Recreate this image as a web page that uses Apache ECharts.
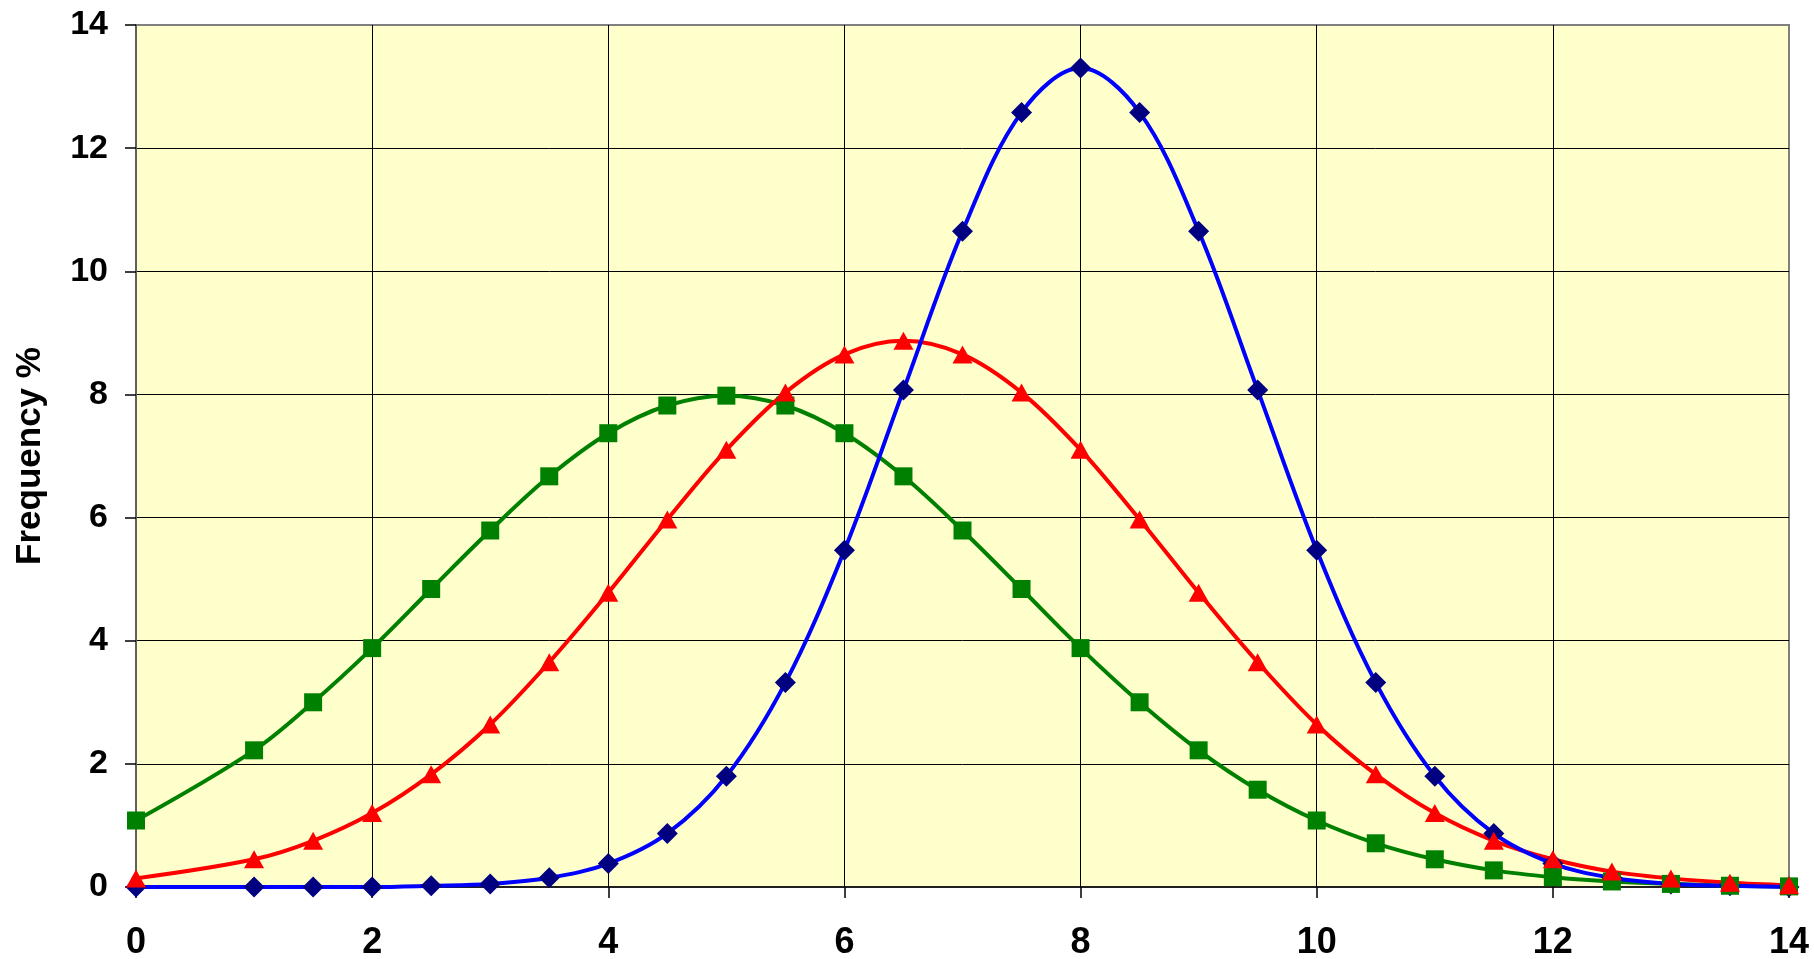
<!DOCTYPE html>
<html>
<head>
<meta charset="utf-8">
<script src="https://cdn.jsdelivr.net/npm/echarts@6/dist/echarts.min.js"></script>
<style>
html,body{margin:0;padding:0;background:#fff;}
#c{width:1814px;height:959px;}
</style>
</head>
<body>
<div id="c"></div>
<script>
const xValues = [0,1,1.5,2,2.5,3,3.5,4,4.5,5,5.5,6,6.5,7,7.5,8,8.5,9,9.5,10,10.5,11,11.5,12,12.5,13,13.5,14];
const blueValues = [0.00,0.00,0.00,0.00,0.02,0.05,0.15,0.38,0.87,1.80,3.32,5.47,8.07,10.65,12.58,13.30,12.58,10.65,8.07,5.47,3.32,1.80,0.87,0.38,0.15,0.05,0.02,0.00];
const redValues = [0.14,0.45,0.75,1.20,1.83,2.64,3.65,4.78,5.97,7.10,8.03,8.65,8.87,8.65,8.03,7.10,5.97,4.78,3.65,2.64,1.83,1.20,0.75,0.45,0.25,0.14,0.07,0.03];
const greenValues = [1.08,2.22,3.00,3.88,4.84,5.79,6.67,7.37,7.82,7.98,7.82,7.37,6.67,5.79,4.84,3.88,3.00,2.22,1.58,1.08,0.71,0.45,0.27,0.16,0.09,0.05,0.02,0.01];
const yAxisName = 'Frequency %';

const pairs = ys => xValues.map((x, i) => [x, ys[i]]);
const font = '"Liberation Sans", Arial, sans-serif';

const chart = echarts.init(document.getElementById('c'), null, {renderer: 'canvas'});

function lineSeries(ys, color, z) {
  return {type: 'line', data: pairs(ys), smooth: 0.35, showSymbol: false, silent: true,
    lineStyle: {color: color, width: 4}, z: z, animation: false};
}
function markSeries(ys, symbol, size, color, z) {
  return {type: 'scatter', data: pairs(ys), symbol: symbol, symbolSize: size,
    itemStyle: {color: color, opacity: 1}, z: z, animation: false, silent: true};
}

chart.setOption({
  animation: false,
  backgroundColor: '#ffffff',
  grid: {left: 136, right: 25, top: 25, bottom: 72, show: true, containLabel: false,
    outerBoundsMode: 'none',
    backgroundColor: '#FFFFCC', borderColor: '#808080', borderWidth: 2},
  xAxis: {
    type: 'value', min: 0, max: 14, interval: 2,
    axisLine: {show: true, onZero: false, lineStyle: {color: '#000', width: 1.5}},
    axisTick: {show: true, length: 11, lineStyle: {color: '#000', width: 1.5}},
    axisLabel: {color: '#000', fontSize: 36, fontWeight: 'bold', fontFamily: font, margin: 38},
    splitLine: {show: true, showMinLine: false, showMaxLine: false, lineStyle: {color: '#000', width: 1}}
  },
  yAxis: {
    type: 'value', min: 0, max: 14, interval: 2,
    name: yAxisName, nameLocation: 'middle', nameRotate: 90, nameGap: 88,
    nameTextStyle: {color: '#000', fontSize: 35, fontWeight: 'bold', fontFamily: font},
    axisLine: {show: true, onZero: false, lineStyle: {color: '#606060', width: 2}},
    axisTick: {show: true, length: 11, lineStyle: {color: '#000', width: 1.5}},
    axisLabel: {color: '#000', fontSize: 34, fontWeight: 'bold', fontFamily: font, margin: 28},
    splitLine: {show: true, showMinLine: false, showMaxLine: false, lineStyle: {color: '#000', width: 1}}
  },
  series: [
    lineSeries(greenValues, '#008000', 2),
    lineSeries(redValues, '#FF0000', 3),
    lineSeries(blueValues, '#0000FF', 4),
    markSeries(blueValues, 'diamond', 21, '#000080', 5),
    markSeries(greenValues, 'rect', 18, '#008000', 6),
    markSeries(redValues, 'triangle', [20, 18], '#FF0000', 7)
  ]
});
</script>
</body>
</html>
